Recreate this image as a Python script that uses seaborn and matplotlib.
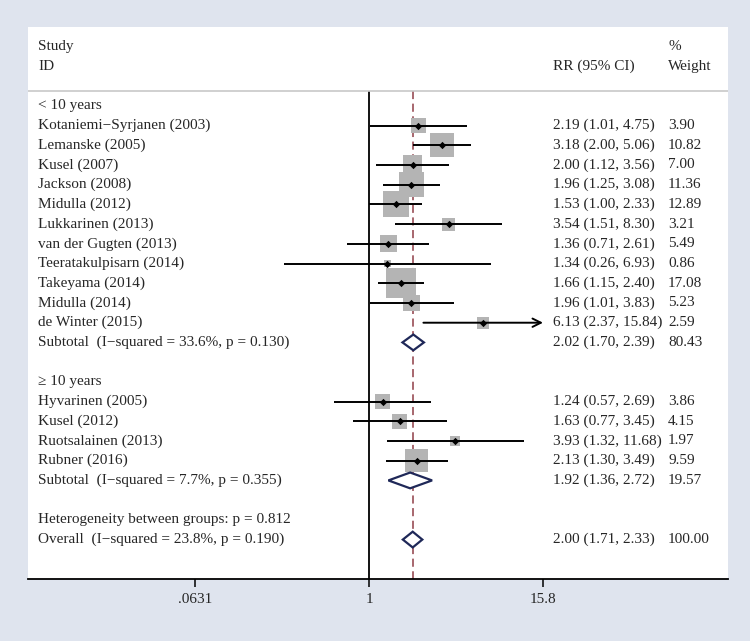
import numpy as np
import pandas as pd
import matplotlib
matplotlib.use("Agg")
import matplotlib.pyplot as plt
import seaborn as sns

# Study data, subgroup < 10 years
studies1 = ["Kotaniemi\u2212Syrjanen (2003)", "Lemanske (2005)", "Kusel (2007)", "Jackson (2008)",
            "Midulla (2012)", "Lukkarinen (2013)", "van der Gugten (2013)", "Teeratakulpisarn (2014)",
            "Takeyama (2014)", "Midulla (2014)", "de Winter (2015)"]
rr1 = [2.19, 3.18, 2.00, 1.96, 1.53, 3.54, 1.36, 1.34, 1.66, 1.96, 6.13]
lo1 = [1.01, 2.00, 1.12, 1.25, 1.00, 1.51, 0.71, 0.26, 1.15, 1.01, 2.37]
hi1 = [4.75, 5.06, 3.56, 3.08, 2.33, 8.30, 2.61, 6.93, 2.40, 3.83, 15.84]
w1 = [3.90, 10.82, 7.00, 11.36, 12.89, 3.21, 5.49, 0.86, 17.08, 5.23, 2.59]

# Subgroup >= 10 years
studies2 = ["Hyvarinen (2005)", "Kusel (2012)", "Ruotsalainen (2013)", "Rubner (2016)"]
rr2 = [1.24, 1.63, 3.93, 2.13]
lo2 = [0.57, 0.77, 1.32, 1.30]
hi2 = [2.69, 3.45, 11.68, 3.49]
w2 = [3.86, 4.15, 1.97, 9.59]

# Pooled estimates: subtotal 1, subtotal 2, overall
pooled_labels = ["Subtotal  (I\u2212squared = 33.6%, p = 0.130)",
                 "Subtotal  (I\u2212squared = 7.7%, p = 0.355)",
                 "Overall  (I\u2212squared = 23.8%, p = 0.190)"]
pooled_rr = [2.02, 1.92, 2.00]
pooled_lo = [1.70, 1.36, 1.71]
pooled_hi = [2.39, 2.72, 2.33]
pooled_w = [80.43, 19.57, 100.00]

group_labels = ["< 10 years", "\u2265 10 years"]
het_label = "Heterogeneity between groups: p = 0.812"

tick_vals = [0.0631, 1, 15.8]
tick_labels = [".0631", "1", "15.8"]

# row layout (top to bottom)
rows1 = list(range(1, 1 + len(studies1)))
sub1_row = rows1[-1] + 1
grp2_row = sub1_row + 2
rows2 = list(range(grp2_row + 1, grp2_row + 1 + len(studies2)))
sub2_row = rows2[-1] + 1
het_row = sub2_row + 2
overall_row = het_row + 1
pooled_rows = [sub1_row, sub2_row, overall_row]

df = pd.DataFrame({
    "study": studies1 + studies2,
    "rr": rr1 + rr2,
    "lo": lo1 + lo2,
    "hi": hi1 + hi2,
    "weight": w1 + w2,
    "row": rows1 + rows2,
})

sns.set_theme(style="white")
plt.rcParams["font.family"] = ["Liberation Serif", "DejaVu Serif"]
fs = 11

fig = plt.figure(figsize=(7.5, 6.41), dpi=100)
fig.patch.set_facecolor("#dfe4ee")
ax = fig.add_axes([28 / 750, 62 / 641, 700 / 750, 552 / 641])
ax.set_facecolor("white")

ax.set_xscale("log")
xmax_clip = tick_vals[-1]

# confidence intervals
for _, r in df.iterrows():
    if r["hi"] > xmax_clip + 0.01:
        ax.annotate("", xy=(xmax_clip, r["row"]), xytext=(r["lo"], r["row"]),
                    arrowprops=dict(arrowstyle="->", lw=1.4, color="black",
                                    mutation_scale=15, shrinkA=0, shrinkB=0), zorder=3)
    else:
        ax.hlines(r["row"], r["lo"], r["hi"], color="black", lw=1.4, zorder=3)

# weight boxes (area proportional to weight)
wmax = df["weight"].max()
sns.scatterplot(data=df, x="rr", y="row", size="weight", sizes=(0, 27.3 * wmax),
                size_norm=(0, wmax), marker="s", color="#b4b4b4", linewidth=0,
                legend=False, ax=ax, zorder=2)
# point estimates
sns.scatterplot(data=df, x="rr", y="row", marker="D", color="black", s=14,
                linewidth=0, legend=False, ax=ax, zorder=4)

# pooled diamonds
h = 0.4
for est, lo, hi, row in zip(pooled_rr, pooled_lo, pooled_hi, pooled_rows):
    ax.fill([lo, est, hi, est, lo], [row, row - h, row, row + h, row],
            facecolor="white", edgecolor="#1f2858", lw=1.6, zorder=5)

top = -0.75
bottom = 24
ax.vlines(1, top, bottom, color="black", lw=1.3, zorder=1)
ax.vlines(pooled_rr[-1], top, bottom, color="#a05a62", lw=1.3,
          linestyles=(0, (4.5, 2.5)), zorder=1)
ax.axhline(top, color="#c8c8c8", lw=1.2)

# text columns
tr = ax.get_yaxis_transform()
x_lab, x_rr, x_w = 0.0143, 0.75, 0.9143
kw = dict(transform=tr, va="center", ha="left", fontsize=fs)
ax.text(x_lab, -3, "Study", **kw)
ax.text(x_lab, -2, "ID", **kw)
ax.text(x_rr, -2, "RR (95% CI)", **kw)
ax.text(x_w, -3, "%", **kw)
ax.text(x_w, -2, "Weight", **kw)
ax.text(x_lab, 0, group_labels[0], **kw)
ax.text(x_lab, grp2_row, group_labels[1], **kw)
ax.text(x_lab, het_row, het_label, **kw)
for _, r in df.iterrows():
    ax.text(x_lab, r["row"], r["study"], **kw)
    ax.text(x_rr, r["row"], f"{r['rr']:.2f} ({r['lo']:.2f}, {r['hi']:.2f})", **kw)
    ax.text(x_w, r["row"], f"{r['weight']:.2f}", **kw)
for lab, est, lo, hi, w, row in zip(pooled_labels, pooled_rr, pooled_lo, pooled_hi,
                                     pooled_w, pooled_rows):
    ax.text(x_lab, row, lab, **kw)
    ax.text(x_rr, row, f"{est:.2f} ({lo:.2f}, {hi:.2f})", **kw)
    ax.text(x_w, row, f"{w:.2f}", **kw)

# axes
px_per_ln = 174 / np.log(15.8)
ax.set_xlim(np.exp(-341 / px_per_ln), np.exp(359 / px_per_ln))
ax.set_ylim(bottom, -4)
ax.set_xticks(tick_vals)
ax.set_xticklabels(tick_labels, fontsize=fs)
ax.xaxis.set_minor_locator(matplotlib.ticker.NullLocator())
ax.set_yticks([])
ax.set_xlabel("")
ax.set_ylabel("")
for s in ["top", "left", "right"]:
    ax.spines[s].set_visible(False)
ax.spines["bottom"].set_color("black")
ax.spines["bottom"].set_linewidth(1.3)
ax.tick_params(axis="x", direction="out", length=6, width=1.1, color="black",
               pad=4, bottom=True)

fig.savefig("out.png", dpi=100, facecolor=fig.get_facecolor())
